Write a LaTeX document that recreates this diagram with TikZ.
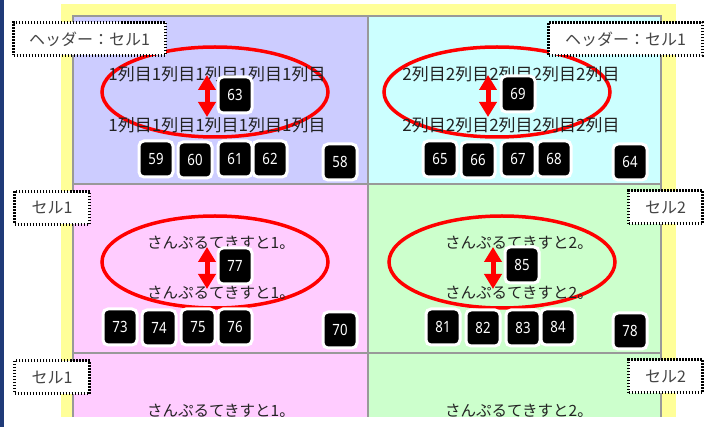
\documentclass[tikz,border=0pt]{standalone}
\usepackage{fontspec}
\setmainfont{Noto Sans CJK JP}
\newfontfamily\numfont[FakeStretch=0.85]{Noto Sans}
\usetikzlibrary{arrows.meta}
\definecolor{navystrip}{HTML}{1F3A78}
\definecolor{yellowbg}{HTML}{FFFF99}
\definecolor{cellA}{HTML}{CCCCFF}
\definecolor{cellB}{HTML}{CCFFFF}
\definecolor{cellC}{HTML}{FFCCFF}
\definecolor{cellD}{HTML}{CCFFCC}
\definecolor{gridgray}{HTML}{999999}
\definecolor{txtgray}{HTML}{222222}
\definecolor{lblgray}{HTML}{444444}
\begin{document}
\begin{tikzpicture}[x=1pt,y=-1pt,
  cell/.style={draw=gridgray, line width=1.5pt},
  ringmark/.style={draw=red, line width=3.5pt},
  headtxt/.style={text=txtgray, font=\fontsize{17}{17}\selectfont, inner sep=0},
  kanatxt/.style={text=txtgray, font=\fontsize{15.5}{15.5}\selectfont, inner sep=0},
  redarrow/.style={draw=red, line width=5pt, {Triangle[width=17pt,length=15pt]}-{Triangle[width=17pt,length=15pt]}},
  numbox/.style={fill=black, draw=white, line width=3pt, rounded corners=5pt,
    minimum width=34pt, minimum height=36pt, inner sep=0, text=white,
    font=\numfont\fontsize{15.5}{15.5}\selectfont},
  lbl/.style={draw=black, fill=white, line width=3pt, dash pattern=on 1.5pt off 1.5pt,
    minimum height=33pt, inner sep=0, text=lblgray, font=\fontsize{16}{16}\selectfont}
]
\useasboundingbox (0,0) rectangle (716,427);
\fill[white] (0,0) rectangle (716,427);
\fill[yellowbg] (61,4) rectangle (676,427);
% cells
\filldraw[cell, fill=cellA] (73,16) rectangle (368,184);
\filldraw[cell, fill=cellB] (368,16) rectangle (661,184);
\filldraw[cell, fill=cellC] (73,184) rectangle (368,353);
\filldraw[cell, fill=cellD] (368,184) rectangle (661,353);
\filldraw[cell, fill=cellC] (73,353) rectangle (368,440);
\filldraw[cell, fill=cellD] (368,353) rectangle (661,440);
% ellipses
\draw[ringmark] (215,92) ellipse [x radius=113, y radius=45];
\draw[ringmark] (497,92) ellipse [x radius=113, y radius=45];
\draw[ringmark] (215,262) ellipse [x radius=113, y radius=46];
\draw[ringmark] (502,262) ellipse [x radius=113, y radius=46];
% texts
\node[headtxt] (h1a) at (217,74) {1列目1列目1列目1列目1列目};
\node[headtxt] (h1b) at (217,125) {1列目1列目1列目1列目1列目};
\node[headtxt] (h2a) at (511,74) {2列目2列目2列目2列目2列目};
\node[headtxt] (h2b) at (511,125) {2列目2列目2列目2列目2列目};
\node[kanatxt] (k1a) at (221,243) {さんぷるてきすと1。};
\node[kanatxt] (k1b) at (221,293) {さんぷるてきすと1。};
\node[kanatxt] (k2a) at (519,243) {さんぷるてきすと2。};
\node[kanatxt] (k2b) at (519,293) {さんぷるてきすと2。};
\node[kanatxt] (k3a) at (221,411) {さんぷるてきすと1。};
\node[kanatxt] (k3b) at (519,411) {さんぷるてきすと2。};
% arrows
\coordinate (a1s) at (207,75); \coordinate (a1e) at (207,117);
\coordinate (a2s) at (488,75); \coordinate (a2e) at (488,117);
\coordinate (a3s) at (207,247); \coordinate (a3e) at (207,289);
\coordinate (a4s) at (493,247); \coordinate (a4e) at (493,289);
\draw[redarrow] (a1s) -- (a1e);
\draw[redarrow] (a2s) -- (a2e);
\draw[redarrow] (a3s) -- (a3e);
\draw[redarrow] (a4s) -- (a4e);
% number boxes
\node[numbox] (n63) at (235,95) {63};
\node[numbox] (n59) at (156,159) {59};
\node[numbox] (n60) at (195,160) {60};
\node[numbox] (n61) at (235,159) {61};
\node[numbox] (n62) at (270,159) {62};
\node[numbox] (n58) at (340,162) {58};
\node[numbox] (n69) at (518,94) {69};
\node[numbox] (n65) at (440,159) {65};
\node[numbox] (n66) at (478,160) {66};
\node[numbox] (n67) at (518,159) {67};
\node[numbox] (n68) at (554,159) {68};
\node[numbox] (n64) at (630,162) {64};
\node[numbox] (n77) at (235,266) {77};
\node[numbox] (n73) at (120,327) {73};
\node[numbox] (n74) at (159,328) {74};
\node[numbox] (n75) at (198,327) {75};
\node[numbox] (n76) at (235,327) {76};
\node[numbox] (n70) at (340,330) {70};
\node[numbox] (n85) at (522,265) {85};
\node[numbox] (n81) at (443,327) {81};
\node[numbox] (n82) at (483,328) {82};
\node[numbox] (n83) at (523,328) {83};
\node[numbox] (n84) at (558,327) {84};
\node[numbox] (n78) at (630,331) {78};
% labels
\node[lbl, minimum width=152pt] (L1) at (89.5,39) {ヘッダー：セル1};
\node[lbl, minimum width=154pt] (L2) at (625.5,39) {ヘッダー：セル1};
\node[lbl, minimum width=75pt] (L3) at (52,208) {セル1};
\node[lbl, minimum width=74pt] (L4) at (665.5,207.5) {セル2};
\node[lbl, minimum width=75pt] (L5) at (52,377.5) {セル1};
\node[lbl, minimum width=74pt] (L6) at (665.5,376.5) {セル2};
% bottom cut and left strip
\fill[white] (0,417) rectangle (716,427);
\fill[navystrip] (0,0) rectangle (4,427);
\end{tikzpicture}
\end{document}
